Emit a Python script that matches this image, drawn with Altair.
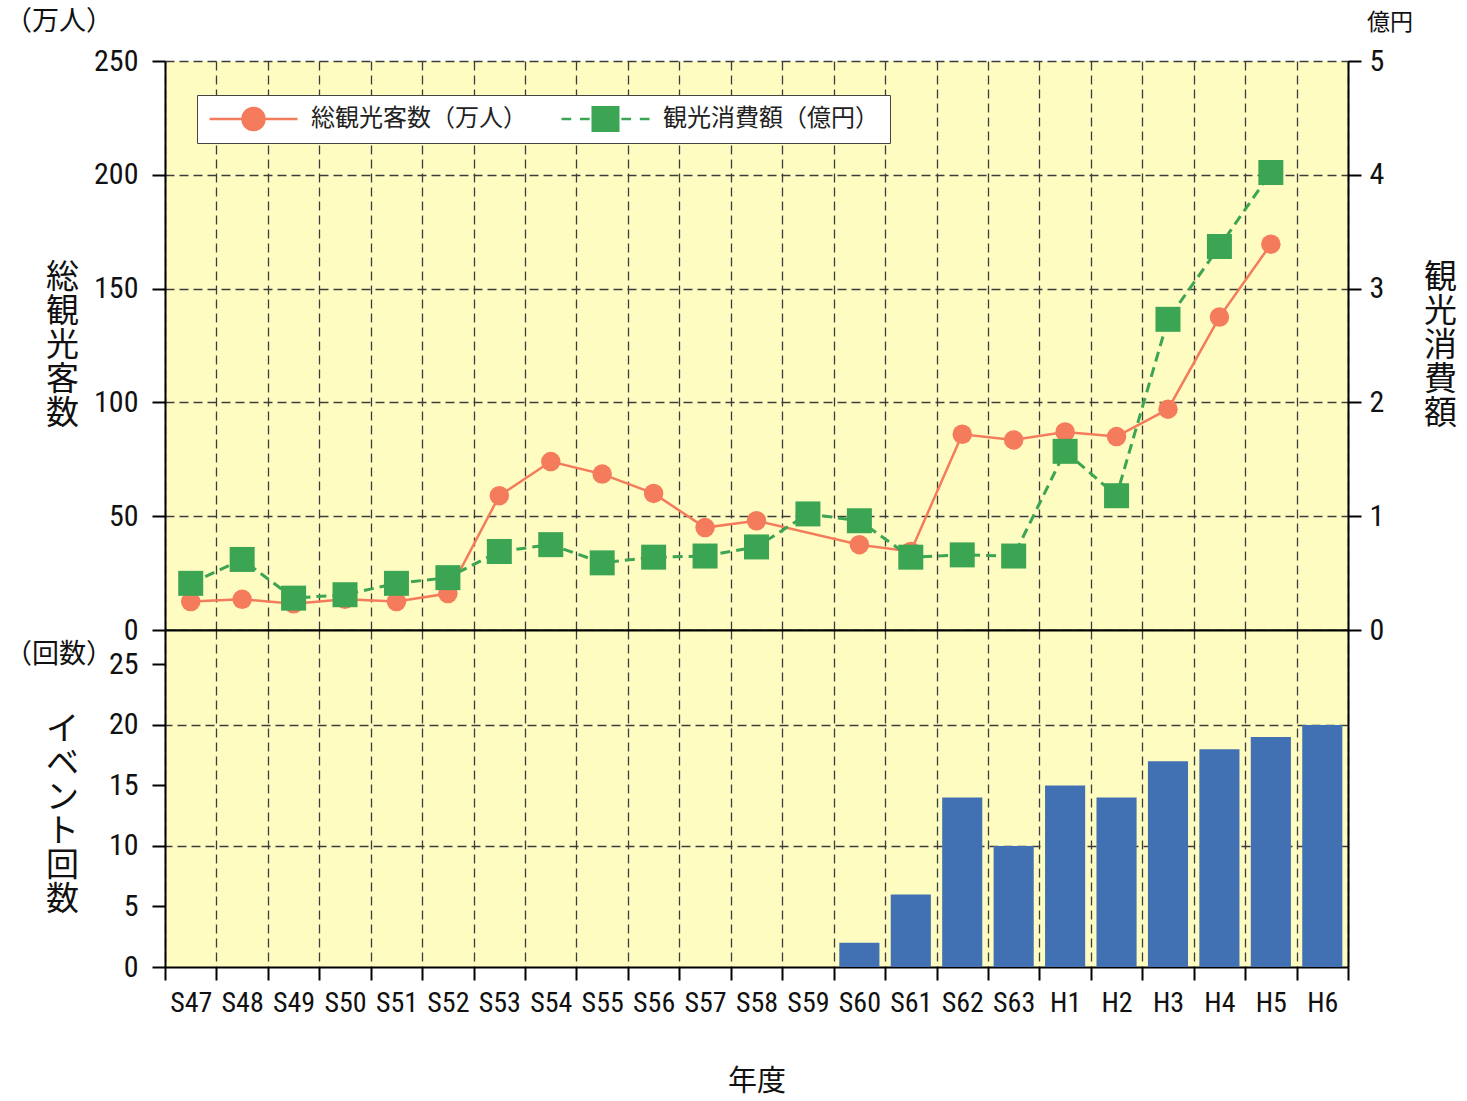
import altair as alt
import pandas as pd

# Fiscal years (Showa 47 .. Heisei 6)
years = ["S47", "S48", "S49", "S50", "S51", "S52", "S53", "S54", "S55", "S56", "S57", "S58",
         "S59", "S60", "S61", "S62", "S63", "H1", "H2", "H3", "H4", "H5", "H6"]

# Total visitors (10k persons); no survey value for S59 and H6
visitors = [12.5, 13.5, 11.5, 13.5, 12.5, 16, 59, 74, 68.5, 60, 45, 48,
            None, 37.5, 34.5, 86, 83.5, 87, 85, 97, 137.5, 169.5, None]

# Tourism spending (100M yen)
spending = [0.41, 0.62, 0.28, 0.31, 0.41, 0.46, 0.69, 0.75, 0.59, 0.64, 0.65, 0.73,
            1.02, 0.96, 0.64, 0.66, 0.65, 1.57, 1.18, 2.73, 3.37, 4.02, None]

# Number of events held
events = [None, None, None, None, None, None, None, None, None, None, None, None,
          None, 2, 6, 14, 10, 15, 14, 17, 18, 19, 20]

SERIES = ["総観光客数（万人）", "観光消費額（億円）"]

RED = "#F47B5B"
GREEN = "#3BA553"
BLUE = "#4170B3"
BG = "#FFFCC2"
GRID = "#3C3C3C"
NUM_FONT = "Roboto Condensed, Liberation Sans Narrow, Roboto"
JP_FONT = "Noto Sans CJK JP"

W, H_TOP, H_BOT = 1183, 569, 337

df_v = pd.DataFrame({"year": years, "value": visitors}).dropna()
df_s = pd.DataFrame({"year": years, "value": spending}).dropna()
df_e = pd.DataFrame({"year": years, "count": events}).dropna()
df_key = pd.DataFrame({"series": SERIES})

x_scale = alt.Scale(domain=years, paddingInner=0, paddingOuter=0)
view_bg = alt.ViewBackground(fill=BG, stroke=None)

grid_style = dict(grid=True, gridColor=GRID, gridDash=[9, 5], gridWidth=1.3)
axis_line = dict(domainColor="black", domainWidth=2, tickColor="black", tickWidth=2,
                 tickSize=13, labelColor="#111", labelFont=NUM_FONT, labelFontSize=30)
v_title = dict(titleAngle=0, titleFont=JP_FONT, titleFontSize=33, titleFontWeight="normal",
               titleLineHeight=34, titleAlign="center", titleBaseline="top", titleColor="#111")

# legend symbols: a short line (solid / broken) with the marker in its middle
circle_path = "M-1,0H1M-0.25,0A0.25,0.25 0 1,1 0.25,0A0.25,0.25 0 1,1 -0.25,0Z"
square_path = ("M-1,0H-0.78M-0.58,0H-0.36M0.36,0H0.58M0.78,0H1"
               "M-0.29,-0.29H0.29V0.29H-0.29Z")

legend = alt.Legend(
    title=None, orient="none", legendX=32, legendY=34, direction="horizontal",
    fillColor="white", strokeColor="#444", padding=11, cornerRadius=0,
    symbolSize=7744, symbolStrokeWidth=2.5, symbolOpacity=1, clipHeight=26,
    labelFont=JP_FONT, labelFontSize=24, labelColor="#222", labelOffset=12,
    labelLimit=400, columnPadding=33,
    labelExpr=f"datum.value === '{SERIES[1]}' ? datum.label + '　　' : datum.label + '　'",
)
series_colors = alt.Scale(domain=SERIES, range=[RED, GREEN])
key_layer = alt.Chart(df_key).mark_point(opacity=0, size=7744).encode(
    fill=alt.Fill("series:N", scale=series_colors, legend=legend),
    stroke=alt.Stroke("series:N", scale=series_colors, legend=legend),
    shape=alt.Shape("series:N", scale=alt.Scale(domain=SERIES, range=[circle_path, square_path]),
                    legend=legend),
)

x_top = alt.X("year:N", sort=years, scale=x_scale, title=None,
              axis=alt.Axis(orient="bottom", labels=False, ticks=False, domainColor="black",
                            domainWidth=2, tickBand="extent", **grid_style))

y_left = alt.Y("value:Q", scale=alt.Scale(domain=[0, 250], nice=False),
               title=["総", "観", "光", "客", "数"],
               axis=alt.Axis(values=[0, 50, 100, 150, 200, 250], labelPadding=14,
                             titleX=-103, titleY=200, **v_title, **axis_line, **grid_style))

y_right = alt.Y("value:Q", scale=alt.Scale(domain=[0, 5], nice=False),
                title=["観", "光", "消", "費", "額"],
                axis=alt.Axis(orient="right", values=[0, 1, 2, 3, 4, 5], grid=False,
                              labelPadding=8, titleX=92, titleY=200, **v_title, **axis_line))

red_line = alt.Chart(df_v).mark_line(strokeWidth=2.5, color=RED).encode(x=x_top, y=y_left)
red_pts = alt.Chart(df_v).mark_point(filled=True, shape="circle", size=380, opacity=1,
                                     color=RED).encode(x=x_top, y=y_left)
green_line = alt.Chart(df_s).mark_line(strokeWidth=3, strokeDash=[10, 6], color=GREEN).encode(
    x=x_top, y=y_right)
green_pts = alt.Chart(df_s).mark_point(filled=True, shape="square", size=625, opacity=1,
                                       color=GREEN).encode(x=x_top, y=y_right)


def unit_label(text, dx, dy, size, align="left"):
    return alt.Chart(pd.DataFrame({"t": [text]})).mark_text(
        font=JP_FONT, fontSize=size, align=align, baseline="middle", color="#111"
    ).encode(text="t:N", x=alt.value(dx), y=alt.value(dy))


top = alt.layer(
    alt.layer(red_line, red_pts),
    alt.layer(green_line, green_pts),
    key_layer,
    unit_label("（万人）", -160, -39, 27),
    unit_label("億円", W + 42, -38, 23, align="center"),
).resolve_scale(y="independent").properties(width=W, height=H_TOP, view=view_bg)

x_bot = alt.X("year:N", sort=years, scale=x_scale, title="年度",
              axis=alt.Axis(orient="bottom", labelAngle=0, labelPadding=9, tickBand="extent",
                            labelFontSize=28, titleFont=JP_FONT, titleFontSize=29,
                            titlePadding=50, titleColor="#111", titleFontWeight="normal",
                            **{k: v for k, v in axis_line.items() if k != "labelFontSize"},
                            **grid_style))

y_bot_scale = alt.Scale(domain=[0, 27.85], nice=False)

bars = alt.Chart(df_e).mark_bar(color=BLUE, width=alt.RelativeBandSize(0.78)).encode(
    x=x_bot,
    y=alt.Y("count:Q", scale=y_bot_scale, title=["イ", "ベ", "ン", "ト", "回", "数"],
            axis=alt.Axis(values=[0, 5, 10, 15, 20, 25], grid=False, labelPadding=14,
                          titleX=-103, titleY=83, **v_title, **axis_line)),
)
# top and right border lines, plus the 10 / 20 guide lines
bars_grid = alt.Chart(df_e).mark_bar(opacity=0).encode(
    x=alt.X("year:N", sort=years, scale=x_scale, title=None,
            axis=alt.Axis(orient="top", labels=False, ticks=False, grid=False,
                          domainColor="black", domainWidth=2)),
    y=alt.Y("count:Q", scale=y_bot_scale, title=None,
            axis=alt.Axis(orient="right", values=[10, 20], labels=False, ticks=False,
                          domainColor="black", domainWidth=2, **grid_style)),
)

bottom = alt.layer(
    bars_grid, bars,
    unit_label("（回数）", -160, 25, 27),
).resolve_axis(x="independent", y="independent").properties(width=W, height=H_BOT, view=view_bg)

chart = alt.vconcat(top, bottom, spacing=0, bounds="flush").properties(
    padding={"left": 5, "top": 8, "right": 5, "bottom": 5},
    background="white",
).configure_view(fill=BG, stroke=None).configure_axis(labelFontWeight="normal")

chart.save("out.html", embed_options={"renderer": "svg", "actions": False})
